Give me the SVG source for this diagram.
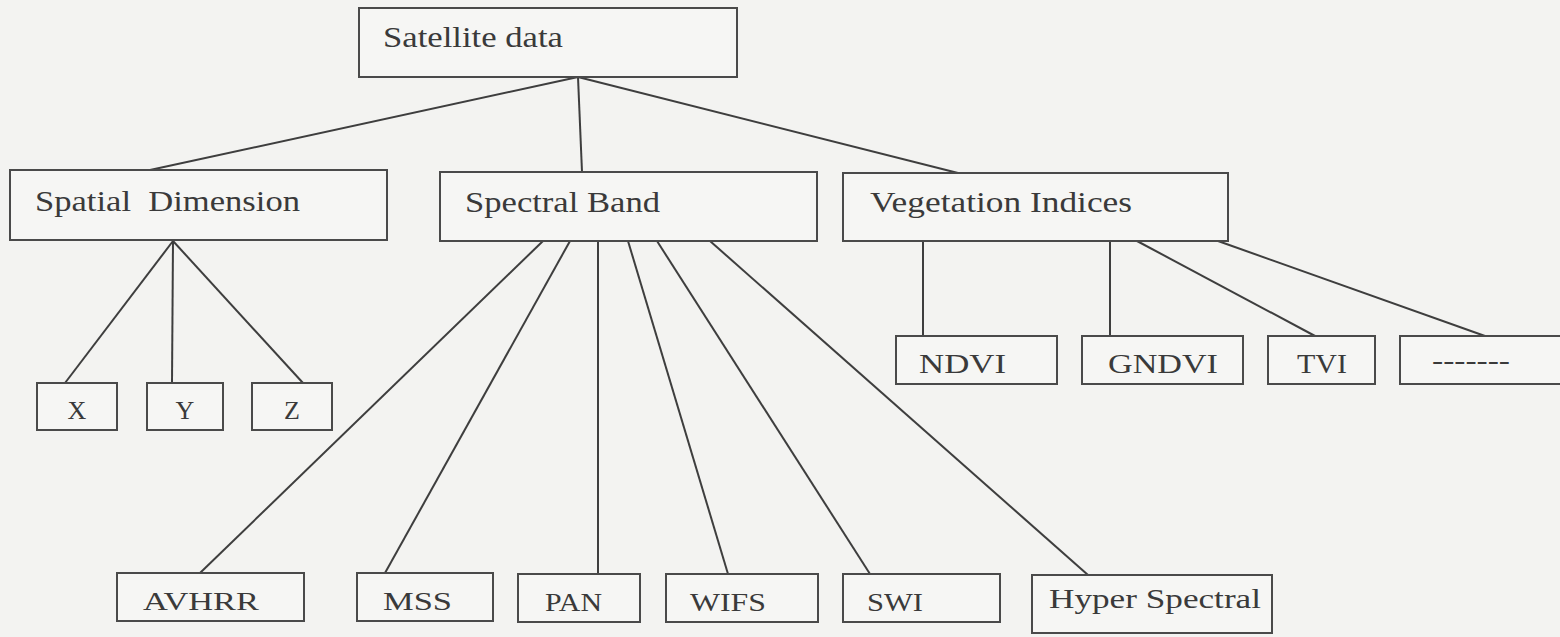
<svg xmlns="http://www.w3.org/2000/svg" width="1560" height="637" viewBox="0 0 1560 637">
<style>
.bg{fill:#f3f3f1}
.box{fill:#f6f6f4;stroke:#4a4a4a;stroke-width:2}
.lbl{font-family:"Liberation Serif","Times New Roman",serif;fill:#3a3a3a}
.big{font-size:30px}
.mid{font-size:28px}
.sm{font-size:26px}
.con{stroke:#3e3e3e;stroke-width:2;fill:none}
</style>
<rect class="bg" x="0" y="0" width="1560" height="637"/>
<g id="connectors">
<line class="con" x1="578" y1="77" x2="150" y2="170"/>
<line class="con" x1="578" y1="77" x2="582" y2="172"/>
<line class="con" x1="578" y1="77" x2="958" y2="173"/>
<line class="con" x1="173" y1="241" x2="65" y2="383"/>
<line class="con" x1="173" y1="241" x2="172" y2="383"/>
<line class="con" x1="173" y1="241" x2="303" y2="383"/>
<line class="con" x1="543" y1="241" x2="200" y2="573"/>
<line class="con" x1="570" y1="241" x2="385" y2="573"/>
<line class="con" x1="598" y1="241" x2="598" y2="574"/>
<line class="con" x1="628" y1="241" x2="728" y2="574"/>
<line class="con" x1="657" y1="241" x2="870" y2="574"/>
<line class="con" x1="710" y1="241" x2="1088" y2="575"/>
<line class="con" x1="923" y1="241" x2="923" y2="336"/>
<line class="con" x1="1110" y1="241" x2="1110" y2="336"/>
<line class="con" x1="1137" y1="241" x2="1315" y2="336"/>
<line class="con" x1="1218" y1="241" x2="1485" y2="336"/>
<path class="con" d="M678 77 L683 71 L695 67"/>
</g>
<g id="satellite"><rect class="box" x="359" y="8" width="378" height="69"/><text class="lbl big" x="383" y="47" textLength="180" lengthAdjust="spacingAndGlyphs">Satellite data</text></g>
<g id="spatial"><rect class="box" x="10" y="170" width="377" height="70"/><text class="lbl big" x="35" y="211" textLength="265" lengthAdjust="spacingAndGlyphs" xml:space="preserve">Spatial  Dimension</text></g>
<g id="spectral"><rect class="box" x="440" y="172" width="377" height="69"/><text class="lbl big" x="465" y="212" textLength="195" lengthAdjust="spacingAndGlyphs">Spectral Band</text></g>
<g id="vegetation"><rect class="box" x="843" y="173" width="385" height="68"/><text class="lbl big" x="870" y="212" textLength="262" lengthAdjust="spacingAndGlyphs">Vegetation Indices</text></g>
<g id="x"><rect class="box" x="37" y="383" width="80" height="47"/><text class="lbl sm" x="77" y="419" text-anchor="middle">X</text></g>
<g id="y"><rect class="box" x="147" y="383" width="76" height="47"/><text class="lbl sm" x="185" y="419" text-anchor="middle">Y</text></g>
<g id="z"><rect class="box" x="252" y="383" width="80" height="47"/><text class="lbl sm" x="292" y="419" text-anchor="middle">Z</text></g>
<g id="ndvi"><rect class="box" x="896" y="336" width="161" height="48"/><text class="lbl mid" x="919" y="373" textLength="87" lengthAdjust="spacingAndGlyphs">NDVI</text></g>
<g id="gndvi"><rect class="box" x="1082" y="336" width="161" height="48"/><text class="lbl mid" x="1108" y="373" textLength="110" lengthAdjust="spacingAndGlyphs">GNDVI</text></g>
<g id="tvi"><rect class="box" x="1268" y="336" width="107" height="48"/><text class="lbl mid" x="1297" y="373" textLength="50" lengthAdjust="spacingAndGlyphs">TVI</text></g>
<g id="more"><rect class="box" x="1400" y="336" width="170" height="48"/><text class="lbl mid" x="1432" y="369" textLength="78" lengthAdjust="spacingAndGlyphs">-------</text></g>
<g id="avhrr"><rect class="box" x="117" y="573" width="187" height="48"/><text class="lbl sm" x="143" y="610" textLength="116" lengthAdjust="spacingAndGlyphs">AVHRR</text></g>
<g id="mss"><rect class="box" x="357" y="573" width="136" height="48"/><text class="lbl sm" x="383" y="610" textLength="69" lengthAdjust="spacingAndGlyphs">MSS</text></g>
<g id="pan"><rect class="box" x="518" y="574" width="122" height="48"/><text class="lbl sm" x="545" y="611" textLength="57" lengthAdjust="spacingAndGlyphs">PAN</text></g>
<g id="wifs"><rect class="box" x="666" y="574" width="152" height="48"/><text class="lbl sm" x="690" y="611" textLength="76" lengthAdjust="spacingAndGlyphs">WIFS</text></g>
<g id="swi"><rect class="box" x="843" y="574" width="157" height="48"/><text class="lbl sm" x="867" y="611" textLength="56" lengthAdjust="spacingAndGlyphs">SWI</text></g>
<g id="hyper"><rect class="box" x="1032" y="575" width="240" height="58"/><text class="lbl mid" x="1049" y="608" textLength="212" lengthAdjust="spacingAndGlyphs">Hyper Spectral</text></g>
</svg>
